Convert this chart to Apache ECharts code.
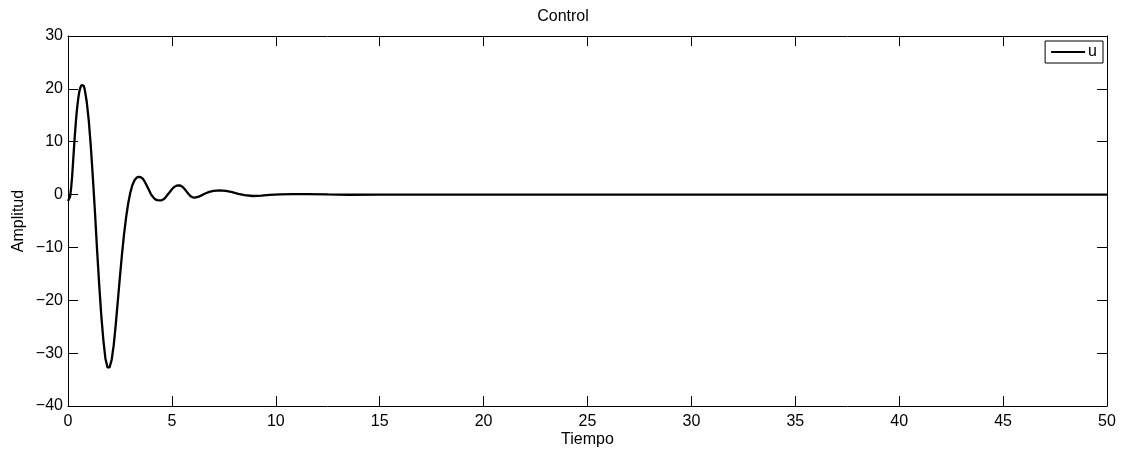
<!DOCTYPE html>
<html>
<head>
<meta charset="utf-8">
<script src="https://cdn.jsdelivr.net/npm/echarts@6/dist/echarts.min.js"></script>
<style>html,body{margin:0;padding:0;background:#fff}#c{width:1126px;height:451px}</style>
</head>
<body>
<div id="c"></div>
<script>
const titleText = 'Control';
const xName = 'Tiempo';
const yName = 'Amplitud';
const seriesName = 'u';
const xTicks = [0, 5, 10, 15, 20, 25, 30, 35, 40, 45, 50];
const yTicks = [-40, -30, -20, -10, 0, 10, 20, 30];
const tValues = [0, 0.05, 0.1, 0.15, 0.2, 0.25, 0.3, 0.35, 0.4, 0.45, 0.5, 0.55, 0.6, 0.65, 0.7, 0.75,
  0.8, 0.9, 1.0, 1.1, 1.2, 1.3, 1.4, 1.5, 1.6, 1.7, 1.8, 1.9, 1.95, 2.0, 2.1, 2.2, 2.3, 2.4, 2.5,
  2.6, 2.7, 2.8, 2.9, 3.0, 3.1, 3.2, 3.3, 3.4, 3.5, 3.6, 3.7, 3.8, 3.9, 4.0, 4.1, 4.2, 4.3, 4.4,
  4.5, 4.6, 4.7, 4.8, 4.9, 5.0, 5.1, 5.2, 5.3, 5.4, 5.5, 5.6, 5.7, 5.8, 5.9, 6.0, 6.1, 6.25, 6.4,
  6.6, 6.8, 7.0, 7.3, 7.6, 7.9, 8.2, 8.5, 8.9, 9.3, 9.7, 10.2, 10.8, 11.5, 12.5, 13.5, 15, 20, 30, 40, 50];
const uValues = [-1.2, -1.2, -0.4, 1.2, 3.5, 6.5, 9.5, 12.3, 14.8, 16.8, 18.4, 19.6, 20.3, 20.7, 20.8, 20.6,
  20.0, 17.6, 14.0, 9.0, 3.0, -3.5, -10.5, -17.0, -22.8, -27.5, -31.0, -32.7, -32.9, -32.7, -31.3, -28.5, -24.5, -20.0, -15.5,
  -11.2, -7.4, -4.2, -1.6, 0.4, 1.8, 2.7, 3.2, 3.35, 3.3, 3.0, 2.4, 1.6, 0.8, 0.0, -0.5, -0.9, -1.05, -1.1,
  -1.08, -0.9, -0.5, 0.0, 0.5, 1.0, 1.4, 1.65, 1.75, 1.72, 1.5, 1.1, 0.6, 0.1, -0.3, -0.52, -0.57, -0.45, -0.2,
  0.2, 0.5, 0.7, 0.8, 0.7, 0.45, 0.15, -0.1, -0.27, -0.2, -0.07, 0.05, 0.1, 0.08, 0.02, -0.03, 0.0, 0.0, 0.0, 0.0, 0.0];

const data = tValues.map((t, i) => [t, uValues[i]]);
const FONT = 'Liberation Sans, Arial, Helvetica, sans-serif';
const xMin = xTicks[0], xMax = xTicks[xTicks.length - 1], xInt = xTicks[1] - xTicks[0];
const yMin = yTicks[0], yMax = yTicks[yTicks.length - 1], yInt = yTicks[1] - yTicks[0];
const fmt = v => String(v).replace('-', '\u2212');

function xAxisDef(pos, labels) {
  return {
    type: 'value', position: pos, min: xMin, max: xMax, interval: xInt,
    name: labels ? xName : '', nameLocation: 'middle', nameGap: 26, nameMoveOverlap: false,
    nameTextStyle: { fontFamily: FONT, fontSize: 16, color: '#000' },
    axisLine: { show: true, onZero: false, lineStyle: { color: '#000', width: 1 } },
    axisTick: { show: true, inside: true, length: 10, lineStyle: { color: '#000', width: 1 } },
    axisLabel: { show: labels, color: '#000', fontFamily: FONT, fontSize: 16, margin: 8, formatter: fmt },
    splitLine: { show: false }
  };
}
function yAxisDef(pos, labels) {
  return {
    type: 'value', position: pos, min: yMin, max: yMax, interval: yInt,
    name: labels ? yName : '', nameLocation: 'middle', nameGap: 41, nameRotate: 90, nameMoveOverlap: false,
    nameTextStyle: { fontFamily: FONT, fontSize: 16, color: '#000' },
    axisLine: { show: true, onZero: false, lineStyle: { color: '#000', width: 1 } },
    axisTick: { show: true, inside: true, length: 10, lineStyle: { color: '#000', width: 1 } },
    axisLabel: { show: labels, color: '#000', fontFamily: FONT, fontSize: 16, margin: 5, formatter: fmt },
    splitLine: { show: false }
  };
}

const chart = echarts.init(document.getElementById('c'), null, { renderer: 'canvas' });
chart.setOption({
  animation: false,
  backgroundColor: '#fff',
  title: {
    text: titleText, left: 'center', top: 4,
    textStyle: { fontFamily: FONT, fontSize: 16, fontWeight: 'normal', color: '#000' }
  },
  grid: { left: 68, right: 19, top: 36, bottom: 45, containLabel: false, outerBoundsMode: 'none' },
  legend: {
    data: [{ name: seriesName, icon: 'rect' }],
    right: 23, top: 41,
    itemWidth: 34, itemHeight: 2, itemGap: 5,
    padding: [3, 6, 3, 6],
    borderColor: '#000', borderWidth: 1, backgroundColor: '#fff',
    textStyle: { fontFamily: FONT, fontSize: 16, color: '#000', padding: [0, 0, 0, -2] },
    itemStyle: { color: '#000' }
  },
  xAxis: [xAxisDef('bottom', true), xAxisDef('top', false)],
  yAxis: [yAxisDef('left', true), yAxisDef('right', false)],
  series: [{
    name: seriesName, type: 'line', xAxisIndex: 0, yAxisIndex: 0,
    data: data, showSymbol: false, symbol: 'none', smooth: false,
    lineStyle: { color: '#000', width: 2.3 }, itemStyle: { color: '#000' }
  }]
});
</script>
</body>
</html>
